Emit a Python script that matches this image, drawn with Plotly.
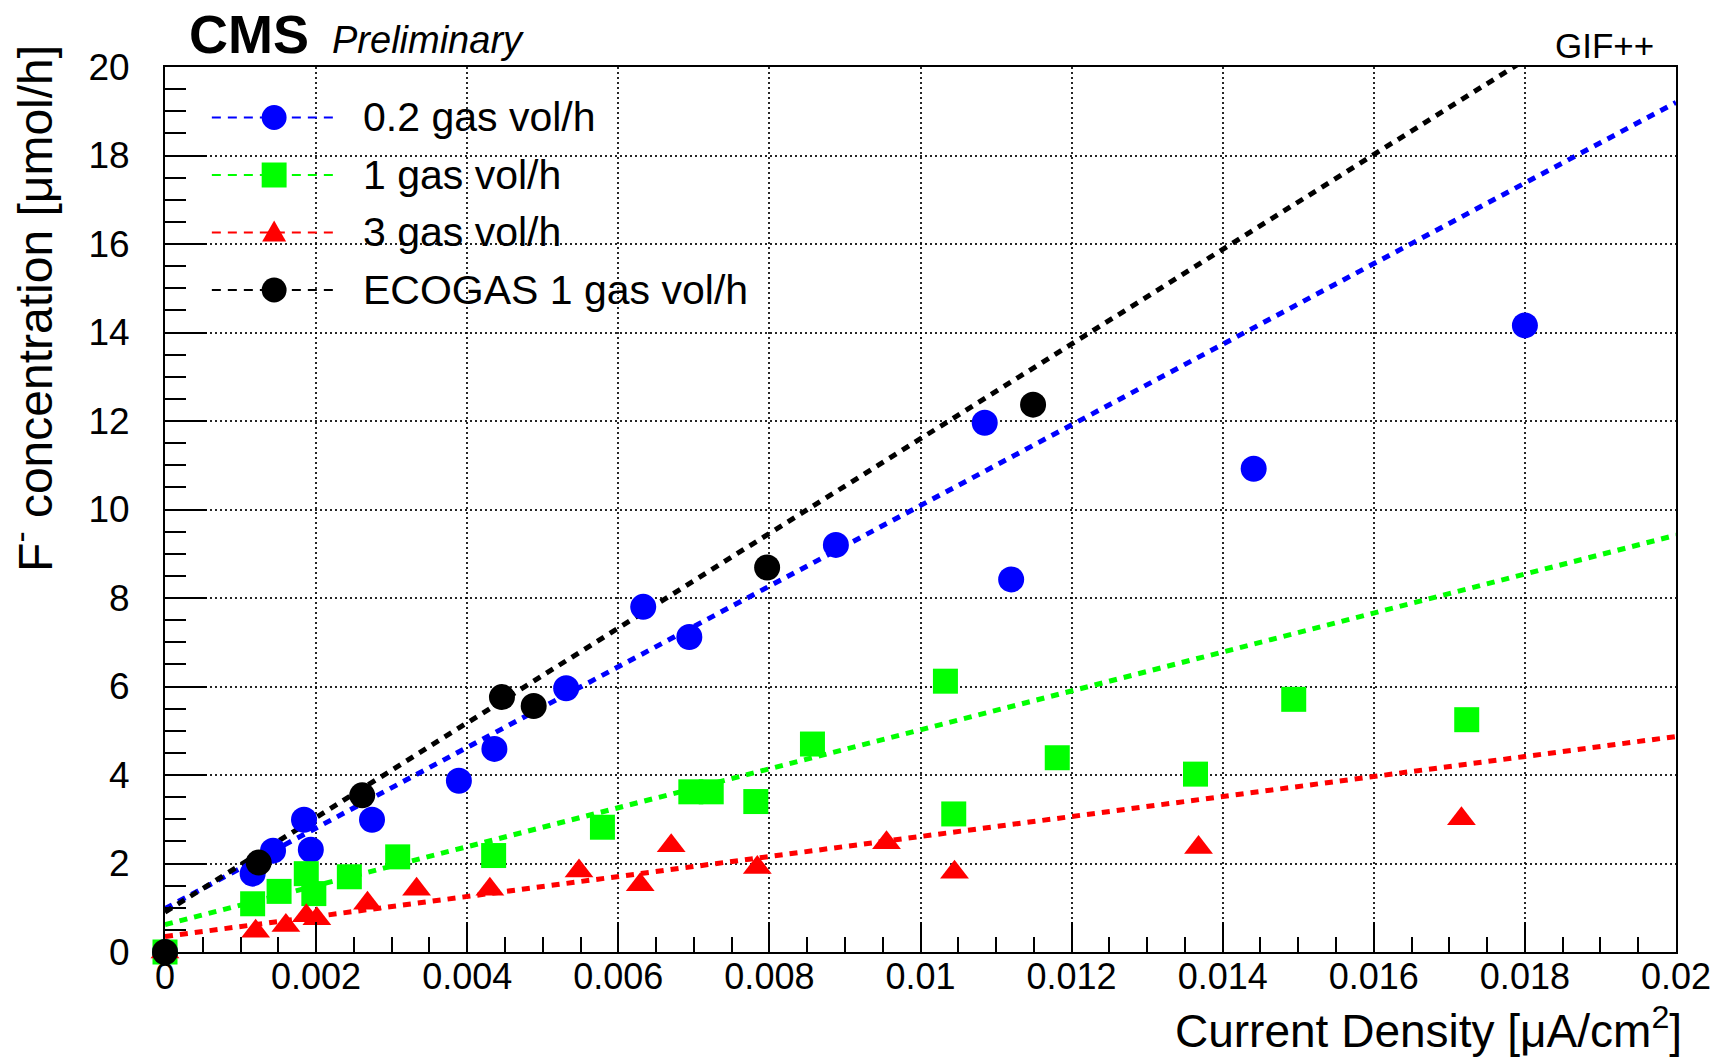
import plotly.graph_objects as go

# ---------------- data ----------------
x_ticks = [0, 0.002, 0.004, 0.006, 0.008, 0.01, 0.012, 0.014, 0.016, 0.018, 0.02]
x_tick_labels = ["0", "0.002", "0.004", "0.006", "0.008", "0.01", "0.012",
                 "0.014", "0.016", "0.018", "0.02"]
y_ticks = [0, 2, 4, 6, 8, 10, 12, 14, 16, 18, 20]
y_tick_labels = ["0", "2", "4", "6", "8", "10", "12", "14", "16", "18", "20"]

series_names = ["0.2 gas vol/h", "1 gas vol/h", "3 gas vol/h", "ECOGAS 1 gas vol/h"]

flow02_x = [0, 0.00116, 0.00143, 0.00184, 0.00193, 0.00274, 0.00389, 0.00436,
            0.00531, 0.00633, 0.00694, 0.00888, 0.01085, 0.01120, 0.01441, 0.01800]
flow02_y = [0, 1.77, 2.29, 2.99, 2.31, 2.99, 3.87, 4.59,
            5.96, 7.80, 7.12, 9.20, 11.96, 8.42, 10.92, 14.16]

flow1_x = [0, 0.00116, 0.00151, 0.00187, 0.00197, 0.00244, 0.00308, 0.00435,
           0.00579, 0.00696, 0.00723, 0.00782, 0.00857, 0.01033, 0.01044,
           0.01181, 0.01364, 0.01494, 0.01723]
flow1_y = [0, 1.09, 1.37, 1.77, 1.32, 1.70, 2.15, 2.18,
           2.82, 3.62, 3.62, 3.40, 4.70, 6.12, 3.12,
           4.39, 4.02, 5.71, 5.25]

flow3_x = [0, 0.00120, 0.00160, 0.00187, 0.00201, 0.00268, 0.00333, 0.00430,
           0.00548, 0.00629, 0.00670, 0.00784, 0.00955, 0.01045, 0.01368, 0.01716]
flow3_y = [0, 0.47, 0.60, 0.82, 0.75, 1.10, 1.42, 1.42,
           1.83, 1.52, 2.40, 1.91, 2.47, 1.80, 2.36, 3.01]

ecogas_x = [0, 0.00124, 0.00261, 0.00446, 0.00488, 0.00797, 0.01149]
ecogas_y = [0, 2.02, 3.54, 5.76, 5.56, 8.69, 12.37]

# linear fit parameters (slope, intercept) per series, as drawn
fit_slope = [911, 440, 226, 1070]
fit_intercept = [0.98, 0.62, 0.35, 0.90]
fit_x_range = [0, 0.02]

# ---------------- styles ----------------
FONT = "Liberation Sans, Arial, Helvetica, sans-serif"
colors = ["#0000ff", "#00ff00", "#ff0000", "#000000"]
symbols = ["circle", "square", "triangle-up", "circle"]
msizes = [26, 25, 25, 26]

W, H = 1723, 1058
ML, MR, MT, MB = 165, 42, 67, 106
PW, PH = W - ML - MR, H - MT - MB

fig = go.Figure()

xs_all = [flow02_x, flow1_x, flow3_x, ecogas_x]
ys_all = [flow02_y, flow1_y, flow3_y, ecogas_y]

# fit lines
for i in range(4):
    fx = list(fit_x_range)
    fy = [fit_intercept[i] + fit_slope[i] * v for v in fx]
    fig.add_trace(go.Scatter(
        x=fx, y=fy, mode="lines",
        line=dict(color=colors[i], width=5, dash="8px,7px"),
        showlegend=False, hoverinfo="skip"))

# data points
for i in range(4):
    fig.add_trace(go.Scatter(
        x=xs_all[i], y=ys_all[i], mode="markers", name=series_names[i],
        marker=dict(symbol=symbols[i], size=msizes[i], color=colors[i],
                    line=dict(width=0)),
        cliponaxis=False, showlegend=False))

# ---------------- custom ROOT-like legend ----------------
shapes = []
annotations = []
row_px = [117.5, 175, 232.5, 290]
lx0, lx1, mxp, tx = 212, 337, 274.5, 362


def px_to_paper_x(px):
    return (px - ML) / PW


def px_to_paper_y(py):
    return (MT + PH - py) / PH


for i in range(4):
    ry = px_to_paper_y(row_px[i])
    shapes.append(dict(type="line", xref="paper", yref="paper",
                       x0=px_to_paper_x(lx0), x1=px_to_paper_x(lx1), y0=ry, y1=ry,
                       line=dict(color=colors[i], width=2, dash="9px,7px")))
    mx = px_to_paper_x(mxp)
    hx = 12.5 / PW
    hy = 12.5 / PH
    if symbols[i] == "circle":
        shapes.append(dict(type="circle", xref="paper", yref="paper",
                           x0=mx - hx, x1=mx + hx, y0=ry - hy, y1=ry + hy,
                           fillcolor=colors[i], line=dict(width=0)))
    elif symbols[i] == "square":
        shapes.append(dict(type="rect", xref="paper", yref="paper",
                           x0=mx - hx, x1=mx + hx, y0=ry - hy, y1=ry + hy,
                           fillcolor=colors[i], line=dict(width=0)))
    else:
        tw = 12 / PW
        tb = 9 / PH
        tt = 12 / PH
        shapes.append(dict(type="path", xref="paper", yref="paper",
                           path=f"M {mx - tw},{ry - tb} L {mx + tw},{ry - tb} L {mx},{ry + tt} Z",
                           fillcolor=colors[i], line=dict(width=0)))
    annotations.append(dict(text=series_names[i], xref="paper", yref="paper",
                            x=px_to_paper_x(tx), y=ry, xanchor="left", yanchor="middle",
                            showarrow=False, font=dict(family=FONT, size=41, color="black")))

# header texts
annotations.append(dict(text="<b>CMS</b>", xref="paper", yref="paper",
                        x=px_to_paper_x(187), y=px_to_paper_y(34),
                        xanchor="left", yanchor="middle", showarrow=False,
                        font=dict(family=FONT, size=54, color="black")))
annotations.append(dict(text="<i>Preliminary</i>", xref="paper", yref="paper",
                        x=px_to_paper_x(331), y=px_to_paper_y(40),
                        xanchor="left", yanchor="middle", showarrow=False,
                        font=dict(family=FONT, size=38, color="black")))
annotations.append(dict(text="GIF++", xref="paper", yref="paper",
                        x=px_to_paper_x(1661), y=px_to_paper_y(45),
                        xanchor="right", yanchor="middle", showarrow=False,
                        font=dict(family=FONT, size=35, color="black")))

# axis titles (ROOT style: aligned at the axis end)
annotations.append(dict(text="Current Density [μA/cm<sup>2</sup>]", xref="paper", yref="paper",
                        x=1.0 + 8 / PW, y=px_to_paper_y(1028), xanchor="right", yanchor="middle",
                        showarrow=False, font=dict(family=FONT, size=46, color="black")))
annotations.append(dict(text="F<sup>-</sup> concentration [μmol/h]", xref="paper", yref="paper",
                        x=px_to_paper_x(31), y=px_to_paper_y(43), xanchor="center", yanchor="top",
                        textangle=-90, showarrow=False,
                        font=dict(family=FONT, size=48, color="black")))

GRID = dict(showgrid=True, gridcolor="rgba(0,0,0,0.85)", gridwidth=1.5, griddash="2px,3px")

fig.update_layout(
    width=W, height=H, autosize=False,
    margin=dict(l=ML, r=MR, t=MT, b=MB, pad=0),
    paper_bgcolor="white", plot_bgcolor="white",
    showlegend=False,
    font=dict(family=FONT, color="black"),
    xaxis=dict(range=[0, 0.02], tickmode="array", tickvals=x_ticks, ticktext=x_tick_labels,
               ticks="inside", ticklen=30, tickwidth=2, tickcolor="black",
               showline=True, linewidth=2, linecolor="black", mirror=True,
               zeroline=False, tickfont=dict(family=FONT, size=36, color="black"),
               ticklabelstandoff=-8,
               minor=dict(tickmode="linear", tick0=0, dtick=0.0005, ticks="inside",
                          ticklen=15, tickwidth=2, tickcolor="black", showgrid=False),
               **GRID),
    yaxis=dict(range=[0, 20], tickmode="array", tickvals=y_ticks, ticktext=y_tick_labels,
               ticks="inside", ticklen=42, tickwidth=2, tickcolor="black",
               showline=True, linewidth=2, linecolor="black", mirror=True,
               zeroline=False, tickfont=dict(family=FONT, size=37, color="black"),
               ticklabelstandoff=26,
               minor=dict(tickmode="linear", tick0=0, dtick=0.5, ticks="inside",
                          ticklen=21, tickwidth=2, tickcolor="black", showgrid=False),
               **GRID),
    shapes=shapes,
    annotations=annotations,
)

fig.write_html("out.html")
